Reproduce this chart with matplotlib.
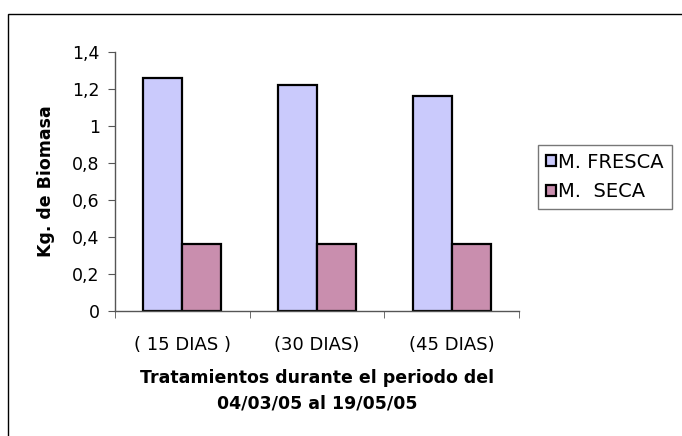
import matplotlib.pyplot as plt
import numpy as np
from matplotlib.patches import Rectangle

plt.rcParams['font.family'] = ['DejaVu Sans']

# Biomass per treatment (kg)
tratamientos = ['( 15 DIAS )', '(30 DIAS)', '(45 DIAS)']
masa_fresca = [1.26, 1.22, 1.16]
masa_seca = [0.36, 0.36, 0.36]
series_labels = ['M. FRESCA', 'M.  SECA']
y_ticks = [0, 0.2, 0.4, 0.6, 0.8, 1.0, 1.2, 1.4]

FS = 12.5

fig = plt.figure(figsize=(6.82, 4.36), dpi=100)
ax = fig.add_axes([115 / 682, 1 - 311 / 436, 404 / 682, 259 / 436])

x = np.arange(len(tratamientos))
w = 0.29
ax.bar(x - w / 2, masa_fresca, w, color='#cacafc', edgecolor='black',
       linewidth=1.6, label=series_labels[0])
ax.bar(x + w / 2, masa_seca, w, color='#c98eae', edgecolor='black',
       linewidth=1.6, label=series_labels[1])

ax.set_xlim(-0.5, 2.5)
ax.set_ylim(0, 1.4)
ax.set_yticks(y_ticks)
ax.set_yticklabels([f'{v:g}'.replace('.', ',') for v in y_ticks], fontsize=FS)

# category labels centred, tick marks on the category boundaries
ax.set_xticks(x)
ax.set_xticklabels(tratamientos, fontsize=13)
ax.tick_params(axis='x', length=0, pad=18)
ax.set_xticks(np.arange(-0.5, 3, 1), minor=True)
ax.tick_params(axis='x', which='minor', length=5, color='#555555')
ax.tick_params(axis='y', length=5, color='#555555', pad=6)

for s in ['top', 'right']:
    ax.spines[s].set_visible(False)
for s in ['left', 'bottom']:
    ax.spines[s].set_color('#555555')
    ax.spines[s].set_linewidth(1.0)

ax.set_ylabel('Kg. de Biomasa', fontsize=FS, fontweight='bold', labelpad=12)
ax.set_xlabel('Tratamientos durante el periodo del\n04/03/05 al 19/05/05',
              fontsize=FS, fontweight='bold', labelpad=11, linespacing=1.5)

leg = ax.legend(loc='upper left', bbox_to_anchor=(538 / 682, 1 - 145 / 436),
                bbox_transform=fig.transFigure, fontsize=14, frameon=True,
                fancybox=False, borderaxespad=0, handlelength=0.5,
                handleheight=0.5, handletextpad=0.15, labelspacing=0.55,
                borderpad=0.4)
leg.get_frame().set_edgecolor('#555555')
leg.get_frame().set_linewidth(1.0)

# chart area border (only top and left edges fall inside the image)
fig.patches.append(Rectangle((8 / 682, -0.1), 1.2, 1 - 14 / 436 + 0.1,
                             transform=fig.transFigure, fill=False,
                             edgecolor='black', linewidth=1.0))

fig.savefig('out.png', dpi=100)
